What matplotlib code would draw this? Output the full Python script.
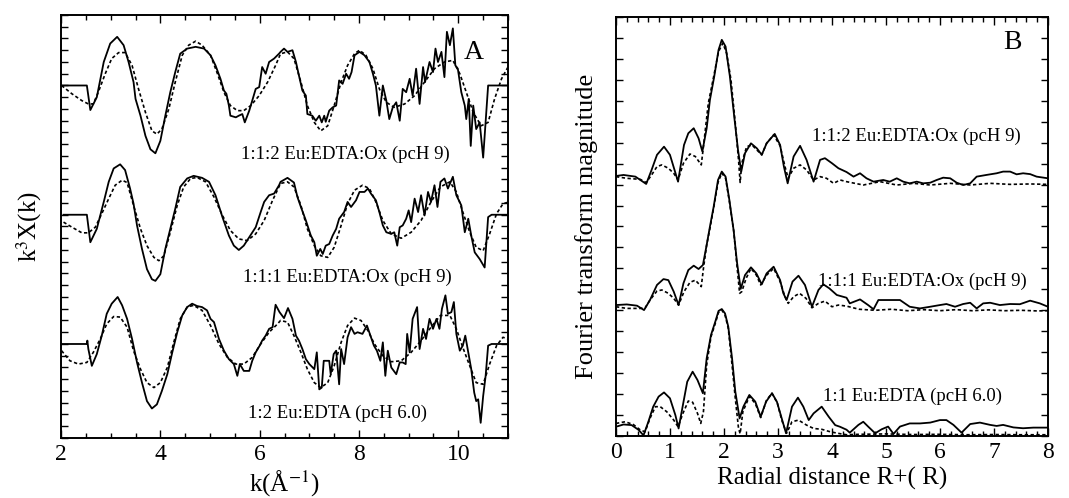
import numpy as np
import matplotlib
matplotlib.use('Agg')
import matplotlib.pyplot as plt
from matplotlib.ticker import MultipleLocator

plt.rcParams['font.family'] = ['Liberation Serif', 'DejaVu Serif']
plt.rcParams['mathtext.fontset'] = 'stix'

# ---- panel A: k^3 chi(k), three samples, data (solid) and fit (dashed)
# values are relative to each trace's flat baseline, in y-tick units
a_offsets = [30.0, 19.0, 8.0]
a_labels = ['1:1:2 Eu:EDTA:Ox (pcH 9)', '1:1:1 Eu:EDTA:Ox (pcH 9)', '1:2 Eu:EDTA (pcH 6.0)']

a1_data = [(2.01, 0), (2.52, 0), (2.59, -2.09), (2.72, -1.0), (2.86, 2.0), (2.99, 3.57), (3.13, 4.14),
           (3.26, 3.43), (3.36, 2.0), (3.46, 0.29), (3.50, -1.14), (3.60, -2.57), (3.70, -4.29), (3.80, -5.43),
           (3.90, -5.77), (4.00, -4.71), (4.10, -2.57), (4.20, -0.57), (4.30, 1.14), (4.40, 2.71), (4.54, 3.14),
           (4.71, 3.29), (4.88, 3.14), (5.01, 2.57), (5.11, 1.71), (5.21, 0.57), (5.28, -0.43), (5.33, -0.71),
           (5.38, -1.71), (5.41, -2.57), (5.52, -2.71), (5.58, -2.57), (5.65, -2.43), (5.70, -3.14), (5.79, -2.14),
           (5.85, -1.29), (5.92, -0.29), (5.99, -0.14), (6.05, 1.57), (6.12, 1.0), (6.19, 2.0), (6.29, 2.29),
           (6.39, 2.71), (6.42, 2.86), (6.49, 3.14), (6.56, 2.86), (6.66, 3.0), (6.73, 2.0), (6.79, 0.86),
           (6.86, -0.43), (6.93, -0.86), (6.96, -2.43), (7.06, -2.57), (7.13, -3.0), (7.20, -2.57), (7.25, -3.14),
           (7.30, -2.57), (7.33, -3.09), (7.40, -2.14), (7.47, -1.86), (7.54, -1.71), (7.60, 0.43), (7.67, 0.14),
           (7.74, 1.0), (7.80, 0.57), (7.85, 1.14), (7.91, 2.57), (8.01, 2.86), (8.11, 2.57), (8.21, 2.0),
           (8.28, 1.0), (8.34, 0), (8.41, -2.57), (8.48, 0), (8.55, -1.29), (8.61, -2.86), (8.68, -1.86),
           (8.75, -1.43), (8.82, -3.0), (8.88, -0.29), (8.95, -0.57), (9.02, 0.57), (9.08, -0.86), (9.15, 1.43),
           (9.22, -1.57), (9.29, 1.57), (9.33, 0.29), (9.42, 2.0), (9.49, 1.14), (9.54, 3.14), (9.59, 2.0),
           (9.66, 2.86), (9.72, 0.71), (9.77, 4.57), (9.83, 3.43), (9.89, 4.86), (9.94, 1.71), (9.99, 1.43),
           (10.06, -0.57), (10.13, -1.71), (10.16, -2.86), (10.21, -1.14), (10.25, -5.14), (10.30, -1.71),
           (10.36, -3.71), (10.43, -3.14), (10.50, -6.14), (10.60, 0), (11.0, 0)]
a1_fit = [(2.01, 0), (2.22, -0.71), (2.42, -1.29), (2.55, -1.57), (2.65, -1.57), (2.75, -0.57), (2.89, 1.0),
          (3.02, 2.29), (3.16, 2.8), (3.29, 2.8), (3.43, 1.71), (3.56, -0.29), (3.70, -2.29), (3.83, -3.86),
          (3.93, -4.14), (4.03, -3.71), (4.17, -2.0), (4.30, 0.29), (4.44, 2.57), (4.57, 3.43), (4.71, 3.77),
          (4.84, 3.43), (5.01, 2.57), (5.15, 1.0), (5.28, -0.57), (5.41, -1.71), (5.55, -2.14), (5.68, -2.14),
          (5.82, -1.71), (5.99, -0.86), (6.16, 0.29), (6.32, 1.71), (6.42, 2.7), (6.56, 2.86), (6.69, 2.29),
          (6.83, 0.29), (6.96, -1.71), (7.10, -3.14), (7.23, -3.86), (7.37, -3.43), (7.50, -1.71), (7.64, 0.29),
          (7.77, 1.71), (7.91, 2.71), (8.01, 3.0), (8.14, 2.57), (8.28, 1.43), (8.41, -0.29), (8.55, -1.43),
          (8.71, -1.86), (8.92, -1.57), (9.12, -0.86), (9.32, 0.29), (9.52, 1.43), (9.72, 2.0), (9.89, 2.14),
          (10.03, 1.0), (10.16, -0.57), (10.30, -2.29), (10.46, -3.43), (10.60, -3.14), (10.73, -1.14),
          (10.87, 0.57), (11.0, 1.57)]

a2_data = [(2.05, 0), (2.52, 0), (2.59, -2.34), (2.72, -1.2), (2.86, 1.09), (2.96, 2.8), (3.06, 3.94),
           (3.19, 4.29), (3.29, 3.8), (3.39, 2.23), (3.46, 0.94), (3.53, -0.91), (3.63, -2.91), (3.73, -4.63),
           (3.83, -5.49), (3.90, -5.63), (4.00, -5.06), (4.10, -2.91), (4.20, -1.2), (4.30, 0.51), (4.40, 2.37),
           (4.54, 3.09), (4.67, 3.31), (4.84, 3.14), (4.98, 2.8), (5.11, 1.66), (5.25, -0.2), (5.38, -1.77),
           (5.48, -2.63), (5.58, -3.0), (5.68, -2.63), (5.79, -1.91), (5.92, -1.06), (6.02, 0.23), (6.09, 1.09),
           (6.19, 1.66), (6.29, 1.8), (6.39, 2.51), (6.42, 2.8), (6.56, 3.14), (6.69, 2.74), (6.76, 1.51),
           (6.83, 0.66), (6.93, -0.49), (7.03, -1.77), (7.10, -2.34), (7.15, -3.49), (7.22, -2.91), (7.27, -3.34),
           (7.33, -2.63), (7.40, -2.49), (7.47, -1.77), (7.54, -1.2), (7.60, -0.34), (7.70, 0.23), (7.77, 1.09),
           (7.84, 0.66), (7.94, 1.23), (8.01, 1.94), (8.11, 1.94), (8.18, 2.23), (8.24, 1.8), (8.34, 1.23),
           (8.41, 0.23), (8.48, -0.91), (8.55, -1.49), (8.65, -1.63), (8.71, -1.49), (8.77, -2.63), (8.82, -1.06),
           (8.88, -0.91), (8.95, -0.34), (9.00, 0.37), (9.05, -0.63), (9.12, 1.37), (9.19, 0.23), (9.25, 1.66),
           (9.32, -0.06), (9.39, 1.94), (9.45, 1.09), (9.52, 2.51), (9.58, 0.66), (9.64, 2.8), (9.72, 3.09),
           (9.79, 2.23), (9.89, 3.23), (9.96, 1.66), (10.06, 0.8), (10.13, -1.49), (10.20, -0.34), (10.26, -1.77),
           (10.33, -3.2), (10.43, -3.77), (10.53, -4.49), (10.60, -0.2), (10.67, 0), (11.0, 0)]
a2_fit = [(2.05, -0.63), (2.22, -1.06), (2.42, -1.54), (2.55, -1.54), (2.69, -1.06), (2.82, 0.09), (2.96, 1.37),
          (3.09, 2.51), (3.23, 2.94), (3.33, 2.74), (3.46, 0.8), (3.60, -1.2), (3.73, -2.63), (3.87, -3.63),
          (3.97, -3.91), (4.07, -3.49), (4.20, -1.49), (4.34, 0.8), (4.47, 2.37), (4.61, 3.09), (4.74, 3.17),
          (4.91, 2.8), (5.08, 1.51), (5.25, -0.06), (5.41, -1.34), (5.58, -2.06), (5.75, -2.2), (5.92, -1.63),
          (6.09, -0.49), (6.26, 1.23), (6.42, 2.66), (6.56, 2.8), (6.69, 2.37), (6.83, 0.8), (6.96, -1.2),
          (7.10, -2.63), (7.23, -3.49), (7.37, -3.63), (7.50, -2.77), (7.64, -0.91), (7.77, 0.94), (7.91, 2.09),
          (8.07, 2.51), (8.21, 2.23), (8.34, 1.09), (8.48, -0.49), (8.65, -1.63), (8.85, -2.0), (9.05, -1.49),
          (9.25, -0.49), (9.45, 1.09), (9.64, 2.37), (9.83, 2.8), (9.96, 1.94), (10.09, 0.23), (10.23, -1.49),
          (10.36, -2.77), (10.50, -3.06), (10.63, -1.63), (10.77, 0.09), (10.90, 0.94), (11.0, 1.06)]

a3_data = [(2.01, 0), (2.52, 0), (2.53, 0.29), (2.55, -0.43), (2.62, -1.86), (2.72, -0.86), (2.82, 0.71),
           (2.92, 2.57), (3.02, 3.43), (3.14, 4.0), (3.23, 3.29), (3.33, 2.14), (3.43, 0.43), (3.53, -1.57),
           (3.63, -3.29), (3.73, -4.86), (3.83, -5.49), (3.93, -5.14), (4.03, -4.0), (4.14, -2.57), (4.24, -0.71),
           (4.34, 1.0), (4.44, 2.43), (4.54, 3.14), (4.64, 3.43), (4.74, 3.23), (4.84, 3.14), (4.94, 2.86),
           (5.01, 2.14), (5.08, 1.86), (5.18, 0.43), (5.28, -0.57), (5.38, -1.29), (5.48, -1.71), (5.55, -2.71),
           (5.60, -1.71), (5.68, -2.29), (5.79, -2.29), (5.85, -1.43), (5.92, -0.71), (6.00, -0.14), (6.05, 0.29),
           (6.12, 0.71), (6.19, 1.29), (6.26, 1.43), (6.32, 3.34), (6.40, 2.71), (6.49, 2.2), (6.57, 3.06),
           (6.66, 2.14), (6.73, 0.71), (6.79, 0.29), (6.86, -0.43), (6.93, -1.29), (7.00, -1.71), (7.10, -2.14),
           (7.15, -0.71), (7.20, -3.86), (7.25, -3.71), (7.29, -1.43), (7.40, -1.43), (7.43, -2.57), (7.49, -0.86),
           (7.54, -0.57), (7.60, -3.43), (7.64, -0.43), (7.70, -1.71), (7.77, 0.57), (7.84, 1.43), (7.91, 0.86),
           (7.97, 1.0), (8.07, 0.86), (8.16, 1.57), (8.23, 0.71), (8.30, -0.14), (8.36, -0.57), (8.43, -1.43),
           (8.48, 0.14), (8.53, -2.71), (8.58, -0.57), (8.65, -2.0), (8.75, -2.57), (8.82, -1.57), (8.88, -1.57),
           (8.94, -1.71), (8.97, 0.86), (9.02, -0.71), (9.08, 2.14), (9.17, 3.14), (9.22, -0.43), (9.29, 1.29),
           (9.35, 0.43), (9.42, 2.14), (9.49, 1.29), (9.56, 2.14), (9.62, 1.29), (9.67, 3.0), (9.74, 4.14),
           (9.79, 2.57), (9.86, 2.71), (9.91, 3.57), (9.96, 0.86), (10.03, -0.57), (10.09, -0.14), (10.14, 0.71),
           (10.20, -0.71), (10.26, -2.14), (10.32, -4.14), (10.36, -4.86), (10.40, -4.71), (10.45, -6.71),
           (10.50, -4.43), (10.55, -2.71), (10.60, -0.14), (10.67, 0), (11.0, 0)]
a3_fit = [(2.01, -0.57), (2.18, -1.43), (2.35, -1.71), (2.52, -1.57), (2.65, -0.71), (2.79, 0.43), (2.92, 1.71),
          (3.06, 2.34), (3.19, 2.29), (3.33, 1.43), (3.46, -0.57), (3.60, -2.14), (3.73, -3.29), (3.87, -3.71),
          (4.00, -3.29), (4.14, -2.0), (4.27, 0.14), (4.40, 2.14), (4.54, 3.14), (4.67, 3.29), (4.84, 2.86),
          (5.01, 1.57), (5.18, 0), (5.35, -1.14), (5.52, -1.71), (5.68, -1.71), (5.85, -1.14), (6.02, 0),
          (6.19, 1.0), (6.36, 1.71), (6.42, 2.0), (6.56, 1.86), (6.69, 0.71), (6.83, -0.71), (6.96, -2.14),
          (7.10, -3.29), (7.23, -3.71), (7.37, -3.29), (7.50, -1.86), (7.64, 0.14), (7.77, 1.57), (7.91, 2.2),
          (8.04, 2.0), (8.18, 1.14), (8.31, 0), (8.48, -1.0), (8.65, -1.51), (8.85, -1.43), (9.05, -0.71),
          (9.25, 0.29), (9.45, 1.43), (9.64, 2.43), (9.83, 2.43), (9.96, 1.29), (10.09, -0.29), (10.23, -1.86),
          (10.36, -3.29), (10.50, -3.43), (10.63, -1.71), (10.77, -0.14), (10.90, 0.57), (11.0, 0.43)]

# ---- panel B: Fourier transform magnitude (absolute, in y-tick units)
b_labels = ['1:1:2 Eu:EDTA:Ox (pcH 9)', '1:1:1 Eu:EDTA:Ox (pcH 9)', '1:1 Eu:EDTA (pcH 6.0)']

b1_data = [(0.0, 12.41), (0.14, 12.46), (0.36, 12.38), (0.56, 12.03), (0.66, 12.7), (0.76, 13.42), (0.89, 13.81),
           (1.00, 13.42), (1.15, 12.14), (1.26, 13.89), (1.34, 14.45), (1.44, 14.69), (1.53, 14.21), (1.60, 13.58),
           (1.68, 14.69), (1.74, 16.04), (1.82, 17.16), (1.90, 18.43), (1.96, 18.91), (2.03, 18.59), (2.11, 17.16),
           (2.19, 15.25), (2.26, 13.66), (2.32, 12.62), (2.39, 13.5), (2.50, 13.97), (2.61, 13.73), (2.70, 13.42),
           (2.79, 13.97), (2.94, 14.42), (3.04, 13.89), (3.11, 12.86), (3.18, 12.06), (3.29, 13.34), (3.41, 13.85),
           (3.53, 13.18), (3.66, 12.14), (3.78, 13.18), (3.87, 13.26), (4.00, 13.02), (4.12, 12.78), (4.27, 12.6),
           (4.40, 12.38), (4.52, 12.54), (4.64, 12.3), (4.77, 12.14), (4.95, 12.22), (5.07, 12.14), (5.20, 12.3),
           (5.32, 12.14), (5.44, 12.06), (5.57, 12.14), (5.69, 12.06), (5.82, 12.09), (5.94, 12.22), (6.06, 12.33),
           (6.19, 12.3), (6.31, 12.09), (6.43, 11.98), (6.56, 12.06), (6.68, 12.38), (6.86, 12.46), (7.05, 12.54),
           (7.17, 12.62), (7.30, 12.62), (7.42, 12.49), (7.54, 12.54), (7.67, 12.5), (7.79, 12.38), (8.0, 12.3)]
b1_fit = [(0.0, 12.38), (0.20, 12.3), (0.45, 12.25), (0.56, 12.1), (0.66, 12.46), (0.76, 12.86), (0.85, 12.94),
          (0.97, 12.78), (1.07, 12.54), (1.15, 12.22), (1.25, 13.02), (1.37, 13.46), (1.47, 13.34), (1.58, 12.94),
          (1.62, 13.81), (1.71, 15.88), (1.81, 17.16), (1.90, 18.35), (1.98, 18.75), (2.05, 18.27), (2.13, 17.0),
          (2.21, 14.93), (2.27, 13.18), (2.30, 12.1), (2.33, 13.02), (2.42, 13.81), (2.52, 13.89), (2.61, 13.65),
          (2.70, 13.42), (2.79, 13.97), (2.92, 14.37), (3.04, 13.85), (3.13, 12.86), (3.19, 12.3), (3.29, 12.78),
          (3.41, 12.94), (3.53, 12.7), (3.66, 12.22), (3.78, 12.38), (3.90, 12.3), (4.03, 12.06), (4.15, 12.22),
          (4.27, 12.14), (4.58, 11.98), (4.89, 12.14), (5.20, 11.98), (5.51, 12.06), (5.82, 11.98), (6.19, 12.06),
          (6.56, 11.98), (6.93, 12.06), (7.30, 12.01), (7.67, 12.03), (8.0, 12.01)]

b2_data = [(0.0, 6.25), (0.2, 6.28), (0.39, 6.22), (0.52, 6.01), (0.63, 6.49), (0.76, 7.21), (0.88, 7.49),
           (0.97, 7.44), (1.07, 6.89), (1.16, 6.25), (1.25, 7.29), (1.34, 7.92), (1.44, 8.13), (1.53, 7.97),
           (1.61, 8.16), (1.68, 9.12), (1.74, 9.99), (1.81, 10.95), (1.89, 12.22), (1.96, 12.62), (2.03, 12.38),
           (2.10, 11.27), (2.18, 9.8), (2.24, 8.32), (2.31, 7.02), (2.39, 7.68), (2.50, 8.05), (2.60, 7.76),
           (2.70, 7.24), (2.79, 7.76), (2.92, 8.08), (3.04, 7.44), (3.10, 6.81), (3.16, 6.49), (3.27, 7.37),
           (3.38, 7.65), (3.50, 7.21), (3.63, 6.17), (3.75, 6.97), (3.84, 7.24), (3.95, 7.05), (4.09, 6.73),
           (4.27, 6.6), (4.33, 6.33), (4.52, 6.52), (4.67, 6.25), (4.77, 6.05), (4.86, 6.49), (5.07, 6.49),
           (5.26, 6.49), (5.44, 6.17), (5.63, 6.09), (5.82, 6.17), (6.00, 6.25), (6.12, 6.3), (6.28, 6.17),
           (6.43, 6.3), (6.56, 6.36), (6.68, 6.09), (6.80, 6.33), (6.93, 6.36), (7.11, 6.25), (7.30, 6.3),
           (7.48, 6.29), (7.67, 6.46), (7.85, 6.33), (8.0, 6.17)]
b2_fit = [(0.0, 6.17), (0.2, 6.09), (0.45, 6.09), (0.54, 6.12), (0.63, 6.49), (0.76, 6.92), (0.85, 6.97),
          (0.97, 6.81), (1.07, 6.57), (1.16, 6.25), (1.26, 6.89), (1.37, 7.33), (1.47, 7.44), (1.58, 7.13),
          (1.62, 8.0), (1.68, 9.12), (1.74, 9.9), (1.81, 10.9), (1.89, 12.1), (1.96, 12.55), (2.03, 12.3),
          (2.10, 11.2), (2.18, 9.8), (2.24, 8.16), (2.29, 6.81), (2.33, 6.89), (2.41, 7.52), (2.50, 8.0),
          (2.60, 7.68), (2.68, 7.21), (2.79, 7.68), (2.92, 8.0), (3.04, 7.37), (3.13, 6.65), (3.19, 6.33),
          (3.29, 6.65), (3.40, 6.81), (3.52, 6.57), (3.63, 6.12), (3.75, 6.33), (3.87, 6.44), (4.00, 6.17),
          (4.12, 6.25), (4.27, 6.2), (4.5, 6.05), (4.8, 6.0), (5.1, 6.05), (5.4, 5.98), (5.7, 6.03), (6.0, 5.98),
          (6.3, 6.03), (6.6, 5.98), (6.9, 6.02), (7.2, 5.98), (7.5, 6.0), (7.8, 5.97), (8.0, 5.98)]

b3_data = [(0.0, 0.44), (0.14, 0.55), (0.29, 0.52), (0.42, 0.29), (0.51, 0.03), (0.60, 0.68), (0.69, 1.4),
           (0.79, 1.88), (0.89, 2.08), (1.00, 1.8), (1.10, 1.0), (1.16, 0.36), (1.24, 1.48), (1.32, 2.59),
           (1.42, 3.07), (1.51, 2.67), (1.61, 2.04), (1.68, 3.71), (1.76, 4.82), (1.84, 5.46), (1.90, 5.97),
           (1.96, 6.06), (2.02, 5.85), (2.08, 5.22), (2.15, 3.71), (2.21, 2.12), (2.29, 0.84), (2.36, 1.4),
           (2.47, 1.96), (2.58, 1.64), (2.68, 0.92), (2.78, 1.64), (2.89, 2.04), (2.98, 1.64), (3.07, 0.84),
           (3.15, 0.13), (3.26, 1.4), (3.37, 1.83), (3.47, 1.4), (3.57, 0.76), (3.66, 1.08), (3.81, 1.4),
           (3.94, 0.92), (4.06, 0.52), (4.15, 0.44), (4.27, 0.3), (4.33, 0.16), (4.49, 0.53), (4.58, 0.68),
           (4.67, 0.45), (4.80, 0.13), (4.92, 0.32), (5.04, 0.45), (5.14, 0.1), (5.26, 0.45), (5.44, 0.6),
           (5.63, 0.6), (5.82, 0.64), (6.00, 0.76), (6.12, 0.76), (6.25, 0.53), (6.40, 0.16), (6.56, 0.57),
           (6.74, 0.64), (6.93, 0.53), (7.05, 0.48), (7.17, 0.53), (7.36, 0.41), (7.54, 0.37), (7.73, 0.4),
           (8.0, 0.4)]
b3_fit = [(0.0, 0.6), (0.17, 0.68), (0.32, 0.55), (0.45, 0.29), (0.54, 0.2), (0.63, 0.84), (0.73, 1.4),
          (0.82, 1.4), (0.94, 1.16), (1.07, 0.76), (1.15, 0.44), (1.24, 1.08), (1.34, 1.67), (1.42, 1.61),
          (1.51, 1.08), (1.57, 0.6), (1.62, 1.16), (1.68, 3.39), (1.76, 4.74), (1.84, 5.38), (1.90, 5.9),
          (1.96, 6.01), (2.02, 5.77), (2.08, 5.14), (2.15, 3.39), (2.21, 1.8), (2.27, 0.36), (2.30, 0.11),
          (2.35, 1.16), (2.47, 1.88), (2.58, 1.56), (2.68, 0.88), (2.79, 1.72), (2.89, 2.04), (2.99, 1.56),
          (3.07, 0.76), (3.16, 0.13), (3.26, 0.68), (3.38, 0.76), (3.53, 0.52), (3.66, 0.36), (3.81, 0.32),
          (3.97, 0.2), (4.15, 0.11), (4.27, 0.06), (4.5, 0.08), (5.0, 0.1), (5.5, 0.07), (6.0, 0.08),
          (6.5, 0.06), (7.0, 0.07), (7.5, 0.06), (8.0, 0.06)]

DASH = (0, (2.0, 1.5))


def style_axes(ax):
    for sp in ax.spines.values():
        sp.set_linewidth(1.4)
    ax.tick_params(which='both', direction='in', top=True, right=True, width=1.0)
    ax.tick_params(which='major', length=6, labelsize=17, pad=4)
    ax.tick_params(which='minor', length=3.5)
    ax.tick_params(axis='y', which='both', length=5, labelleft=False)


fig = plt.figure(figsize=(10.69, 4.98), dpi=100)

# panel A
axA = fig.add_axes([0.0571, 0.1205, 0.4181, 0.8494])
for off, dat, fit in zip(a_offsets, [a1_data, a2_data, a3_data], [a1_fit, a2_fit, a3_fit]):
    k, y = np.array(dat).T
    axA.plot(k, y + off, color='black', lw=1.3)
    k, y = np.array(fit).T
    axA.plot(k, y + off, color='black', lw=1.2, ls=DASH)
axA.set_xlim(2, 11)
axA.set_ylim(0, 36)
axA.xaxis.set_major_locator(MultipleLocator(2))
axA.xaxis.set_minor_locator(MultipleLocator(0.5))
axA.yaxis.set_major_locator(MultipleLocator(1))
style_axes(axA)
axA.set_xlabel(r'k(Å$^{-1}$)', fontsize=18, labelpad=3)
axA.set_ylabel(r'k$^{3}$X(k)', fontsize=18, labelpad=12)
axA.text(10.32, 32.8, 'A', fontsize=20, ha='center', va='center')
for (x, y), lab in zip([(7.72, 24.1), (7.76, 13.7), (7.57, 2.13)], a_labels):
    axA.text(x, y, lab, fontsize=13.5, ha='center', va='center')

# panel B
axB = fig.add_axes([0.5762, 0.1245, 0.4041, 0.8414])
for dat, fit in zip([b1_data, b2_data, b3_data], [b1_fit, b2_fit, b3_fit]):
    r, y = np.array(dat).T
    axB.plot(r, y, color='black', lw=1.3)
    r, y = np.array(fit).T
    axB.plot(r, y, color='black', lw=1.2, ls=DASH)
axB.set_xlim(0, 8)
axB.set_ylim(0, 20)
axB.xaxis.set_major_locator(MultipleLocator(1))
axB.xaxis.set_minor_locator(MultipleLocator(0.2))
axB.yaxis.set_major_locator(MultipleLocator(1))
style_axes(axB)
axB.set_xlabel('Radial distance R+( R)', fontsize=18, labelpad=3)
axB.set_ylabel('Fourier transform magnitude', fontsize=19, labelpad=13)
axB.text(7.35, 18.76, 'B', fontsize=20, ha='center', va='center')
for (x, y), lab in zip([(5.57, 14.29), (5.67, 7.37), (5.49, 1.88)], b_labels):
    axB.text(x, y, lab, fontsize=13.5, ha='center', va='center')

fig.savefig('out.png', dpi=100)
